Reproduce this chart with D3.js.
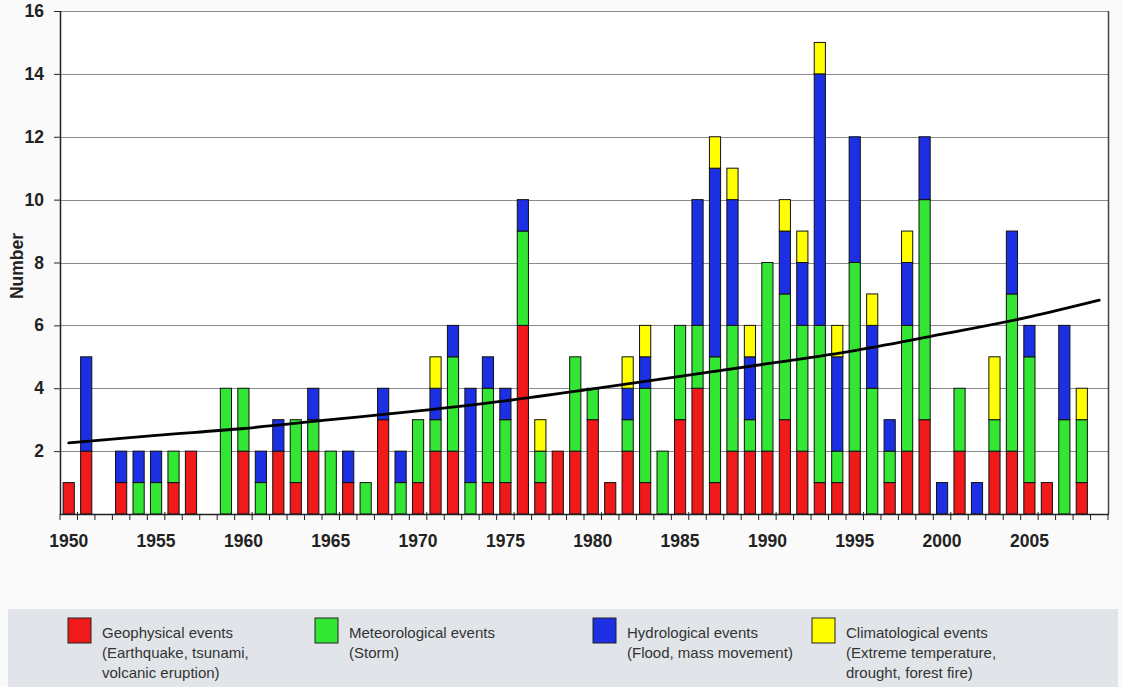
<!DOCTYPE html>
<html><head><meta charset="utf-8">
<script src="https://cdn.jsdelivr.net/npm/d3@7"></script>
<style>
html,body{margin:0;padding:0;background:#fafafa;}
svg{display:block;font-family:Arial,"Liberation Sans",sans-serif;}
</style></head>
<body>
<svg id="chart" width="1123" height="687"></svg>
<script>
const years = d3.range(1950, 2010);
const geophysical   = [1,2,0,1,0,0,1,2,0,0, 2,0,2,1,2,0,1,0,3,0, 1,2,2,0,1,1,6,1,2,2, 3,1,2,1,0,3,4,1,2,2, 2,3,2,1,1,2,0,1,2,3, 0,2,0,2,2,1,1,0,1,0];
const meteorological= [0,0,0,0,1,1,1,0,0,4, 2,1,0,2,1,2,0,1,0,1, 2,1,3,1,3,2,3,1,0,3, 1,0,1,3,2,3,2,4,4,1, 6,4,4,5,1,6,4,1,4,7, 0,2,0,1,5,4,0,3,2,0];
const hydrological  = [0,3,0,1,1,1,0,0,0,0, 0,1,1,0,1,0,1,0,1,1, 0,1,1,3,1,1,1,0,0,0, 0,0,1,1,0,0,4,6,4,2, 0,2,2,8,3,4,2,1,2,2, 1,0,1,0,2,1,0,3,0,0];
const climatological= [0,0,0,0,0,0,0,0,0,0, 0,0,0,0,0,0,0,0,0,0, 0,1,0,0,0,0,0,1,0,0, 0,0,1,1,0,0,0,1,1,1, 0,1,1,1,1,0,1,0,1,0, 0,0,0,2,0,0,0,0,1,0];
const trendYears  = [1950,1955,1960,1965,1970,1975,1980,1985,1990,1995,2000,2005,2009];
const trendValues = [2.26,2.5,2.72,3.0,3.28,3.6,3.98,4.38,4.78,5.2,5.72,6.27,6.8];
const yTicks = [2,4,6,8,10,12,14,16];
const xTickLabels = [1950,1955,1960,1965,1970,1975,1980,1985,1990,1995,2000,2005];
const seriesKeys = ["geo","met","hyd","cli"];
const seriesColors = ["#f01a1a","#33e633","#1c2fe3","#ffff00"];
const legendLabels = [
  ["Geophysical events","(Earthquake, tsunami,","volcanic eruption)"],
  ["Meteorological events","(Storm)"],
  ["Hydrological events","(Flood, mass movement)"],
  ["Climatological events","(Extreme temperature,","drought, forest fire)"]
];

const FONT = "Arial, 'Liberation Sans', sans-serif";
const svg = d3.select("#chart");
const pL = 60, pR = 1108, pT = 11, pB = 514;

const table = years.map((yr,i)=>({year:yr, geo:geophysical[i], met:meteorological[i], hyd:hydrological[i], cli:climatological[i]}));
const stacked = d3.stack().keys(seriesKeys)(table);

const x = d3.scaleBand().domain(years).range([pL,pR]).paddingInner(0.36).paddingOuter(0.18);
const y = d3.scaleLinear().domain([0,16]).range([pB,pT]);

// plot background
svg.append("rect").attr("x",pL).attr("y",pT).attr("width",pR-pL).attr("height",pB-pT).attr("fill","#fff");

// gridlines
svg.append("g").selectAll("line").data(yTicks).join("line")
  .attr("x1",pL).attr("x2",pR)
  .attr("y1",d=>Math.round(y(d))+0.5).attr("y2",d=>Math.round(y(d))+0.5)
  .attr("stroke","#8a8a8a").attr("stroke-width",1.2);

// bars
svg.append("g").selectAll("g").data(stacked).join("g")
  .attr("fill",(d,i)=>seriesColors[i])
  .selectAll("rect").data(d=>d.filter(s=>s[1]-s[0]>0)).join("rect")
  .attr("x",d=>x(d.data.year))
  .attr("width",x.bandwidth())
  .attr("y",d=>y(d[1]))
  .attr("height",d=>y(d[0])-y(d[1]))
  .attr("stroke","#111").attr("stroke-width",1);

// trend line
const tx = d3.scaleLinear().domain([1950,2009]).range([x(1950)+x.bandwidth()/2, x(2009)+x.bandwidth()/2]);
svg.append("path").datum(trendYears.map((t,i)=>[t,trendValues[i]]))
  .attr("d", d3.line().x(d=>tx(d[0])).y(d=>y(d[1])).curve(d3.curveMonotoneX))
  .attr("fill","none").attr("stroke","#000").attr("stroke-width",2.8).attr("stroke-linecap","round");

// plot frame (left axis, right border)
svg.append("line").attr("x1",pL+0.5).attr("x2",pL+0.5).attr("y1",pT).attr("y2",pB).attr("stroke","#222").attr("stroke-width",1.5);
svg.append("line").attr("x1",pR+0.5).attr("x2",pR+0.5).attr("y1",pT).attr("y2",pB).attr("stroke","#444").attr("stroke-width",1.5);

// y axis
const yAxis = d3.axisLeft(y).tickValues(yTicks).tickSize(6).tickPadding(10).tickFormat(d3.format("d"));
const gy = svg.append("g").attr("transform",`translate(${pL},0)`).call(yAxis);
gy.select(".domain").remove();
gy.selectAll(".tick line").attr("stroke","#222");
gy.selectAll("text").attr("font-size",17.5).attr("font-weight","bold").attr("fill","#222").attr("font-family",FONT);

// x axis
const xAxis = d3.axisBottom(x).tickValues(xTickLabels).tickSize(0).tickPadding(21).tickFormat(d3.format("d"));
const gx = svg.append("g").attr("transform",`translate(0,${pB})`).call(xAxis);
gx.select(".domain").remove();
gx.selectAll("text").attr("font-size",17.5).attr("font-weight","bold").attr("fill","#222").attr("font-family",FONT);
svg.append("line").attr("x1",pL).attr("x2",pR+1).attr("y1",pB+0.5).attr("y2",pB+0.5).attr("stroke","#222").attr("stroke-width",1.5);
// boundary ticks
const boundaries = years.map(yr=>x(yr)-x.step()*x.paddingInner()/2).concat([pR]);
svg.append("g").selectAll("line").data(boundaries).join("line")
  .attr("x1",d=>d).attr("x2",d=>d)
  .attr("y1",(d,i)=>pB + ((i%5===1)?-2:0)).attr("y2",pB+6)
  .attr("stroke","#222").attr("stroke-width",1);

// y title
svg.append("text").attr("transform","translate(23,266) rotate(-90)")
  .attr("text-anchor","middle").attr("font-size",17.5).attr("font-weight","bold").attr("fill","#222").attr("font-family",FONT).text("Number");

// legend
svg.append("rect").attr("x",8).attr("y",609).attr("width",1110).attr("height",78).attr("fill","#e1e5e9");
const legendX = [68,315,593,812];
const lg = svg.append("g").selectAll("g").data(legendLabels).join("g")
  .attr("transform",(d,i)=>`translate(${legendX[i]},618)`);
lg.append("rect").attr("width",23).attr("height",25).attr("fill",(d,i)=>seriesColors[i]).attr("stroke","#222").attr("stroke-width",1);
lg.append("text").attr("x",34).attr("y",20).attr("font-size",15).attr("fill","#333").attr("font-family",FONT)
  .selectAll("tspan").data(d=>d).join("tspan").attr("x",34).attr("dy",(d,i)=>i===0?0:20).text(d=>d);
</script>
</body></html>
